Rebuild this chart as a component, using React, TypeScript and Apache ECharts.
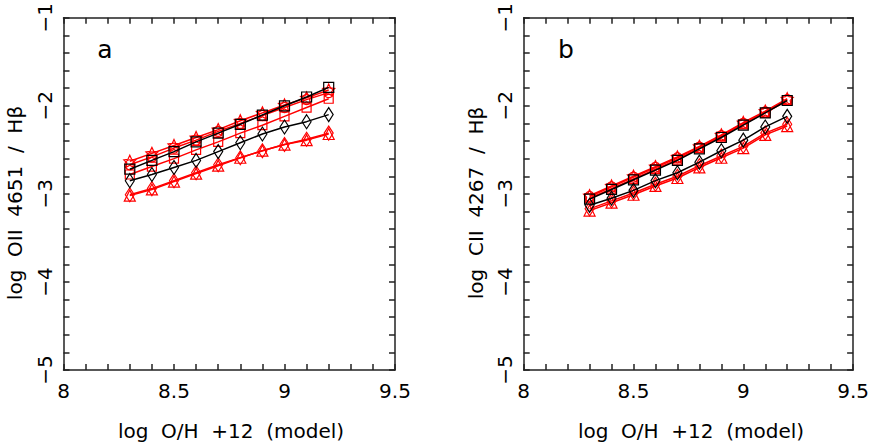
import React, { useEffect, useRef } from "react";
import * as echarts from "echarts";

// ---- data ----
const X_VALUES = [8.3, 8.4, 8.5, 8.6, 8.7, 8.8, 8.9, 9.0, 9.1, 9.2];
const X_TICK_LABELS = ["8", "8.5", "9", "9.5"];
const Y_TICK_LABELS = ["−5", "−4", "−3", "−2", "−1"];

// panel a : log OII 4651 / Hb
const A_BLACK_SQUARE = [-2.72, -2.62, -2.52, -2.41, -2.31, -2.21, -2.105, -2.0, -1.9, -1.79];
const A_BLACK_DIAMOND = [-2.85, -2.78, -2.7, -2.62, -2.52, -2.42, -2.32, -2.24, -2.18, -2.1];
const A_RED_STAR = [-2.63, -2.54, -2.45, -2.36, -2.27, -2.17, -2.08, -1.99, -1.91, -1.82];
const A_RED_CIRCLE = [-2.67, -2.58, -2.48, -2.39, -2.29, -2.2, -2.11, -2.02, -1.93, -1.85];
const A_RED_SQUARE = [-2.78, -2.69, -2.6, -2.5, -2.41, -2.31, -2.22, -2.12, -2.02, -1.92];
const A_RED_TRIANGLE = [-3.02, -2.95, -2.86, -2.77, -2.68, -2.59, -2.51, -2.44, -2.39, -2.32];
const A_RED_DIAMOND = [-3.01, -2.94, -2.85, -2.76, -2.67, -2.59, -2.51, -2.44, -2.38, -2.31];

// panel b : log CII 4267 / Hb
const B_BLACK_SQUARE = [-3.06, -2.95, -2.84, -2.73, -2.62, -2.49, -2.36, -2.22, -2.08, -1.94];
const B_BLACK_DIAMOND = [-3.13, -3.05, -2.96, -2.85, -2.76, -2.64, -2.51, -2.39, -2.24, -2.12];
const B_RED_STAR = [-3.02, -2.91, -2.8, -2.69, -2.58, -2.46, -2.33, -2.19, -2.06, -1.92];
const B_RED_CIRCLE = [-3.03, -2.92, -2.81, -2.7, -2.59, -2.47, -2.34, -2.2, -2.07, -1.93];
const B_RED_SQUARE = [-3.05, -2.94, -2.83, -2.72, -2.61, -2.48, -2.35, -2.21, -2.08, -1.94];
const B_RED_TRIANGLE = [-3.19, -3.1, -3.01, -2.91, -2.82, -2.7, -2.59, -2.48, -2.33, -2.23];
const B_RED_DIAMOND = [-3.17, -3.08, -2.99, -2.89, -2.8, -2.68, -2.57, -2.46, -2.31, -2.21];

const X_TITLE = "log  O/H  +12  (model)";
const Y_TITLE_A = "log  OII  4651  /  Hβ";
const Y_TITLE_B = "log  CII  4267  /  Hβ";

const STAR =
  "path://M0,-10 L2.9,-4 L9.5,-3.1 L4.7,1.5 L5.9,8.1 L0,5 L-5.9,8.1 L-4.7,1.5 L-9.5,-3.1 L-2.9,-4 Z";

const FONT = "DejaVu Sans";
const AXIS_COLOR = "#222";
const RED = "#ff0000";
const BLACK = "#000000";

function xLabel(v: number): string {
  const s = String(Math.round(v * 10) / 10);
  return X_TICK_LABELS.includes(s) ? s : "";
}
function yLabel(v: number): string {
  const r = Math.round(v);
  if (Math.abs(v - r) > 1e-6) return "";
  const s = "−" + Math.abs(r);
  return Y_TICK_LABELS.includes(s) ? s : "";
}

function mkX(gridIndex: number, top: boolean) {
  return {
    type: "value",
    gridIndex,
    position: top ? "top" : "bottom",
    min: 8,
    max: 9.5,
    interval: 0.1,
    axisLine: { show: true, onZero: false, lineStyle: { color: AXIS_COLOR, width: 1.5 } },
    axisTick: { show: true, inside: true, length: 6, lineStyle: { color: AXIS_COLOR, width: 1.5 } },
    axisLabel: {
      show: !top,
      formatter: xLabel,
      margin: 11,
      color: "#000",
      fontFamily: FONT,
      fontSize: 20,
      hideOverlap: false,
    },
    splitLine: { show: false },
  };
}
function mkY(gridIndex: number, right: boolean) {
  return {
    type: "value",
    gridIndex,
    position: right ? "right" : "left",
    min: -5,
    max: -1,
    interval: 0.2,
    axisLine: { show: true, onZero: false, lineStyle: { color: AXIS_COLOR, width: 1.5 } },
    axisTick: { show: true, inside: true, length: 6, lineStyle: { color: AXIS_COLOR, width: 1.5 } },
    axisLabel: {
      show: !right,
      formatter: yLabel,
      rotate: 90,
      margin: 9,
      color: "#000",
      fontFamily: FONT,
      fontSize: 20,
      hideOverlap: false,
    },
    splitLine: { show: false },
  };
}

function mkSeries(
  axis: number,
  data: number[],
  color: string,
  symbol: string,
  size: number | number[]
) {
  return {
    type: "line",
    xAxisIndex: axis,
    yAxisIndex: axis,
    data: X_VALUES.map((x, i) => [x, data[i]]),
    symbol,
    symbolSize: size,
    showAllSymbol: true,
    lineStyle: { color, width: 1.5 },
    itemStyle: { color: "rgba(0,0,0,0)", borderColor: color, borderWidth: 1.2 },
    z: color === BLACK ? 3 : 2,
  };
}

function panelSeries(
  axis: number,
  bs: number[],
  bd: number[],
  rs: number[],
  rc: number[],
  rq: number[],
  rt: number[],
  rd: number[]
) {
  return [
    mkSeries(axis, rt, RED, "triangle", 11),
    mkSeries(axis, rd, RED, "diamond", [9, 14]),
    mkSeries(axis, rs, RED, STAR, 12),
    mkSeries(axis, rc, RED, "circle", 10),
    mkSeries(axis, rq, RED, "rect", 9),
    mkSeries(axis, bd, BLACK, "diamond", [9, 14]),
    mkSeries(axis, bs, BLACK, "rect", 10),
  ];
}

export default function App() {
  const ref = useRef<HTMLDivElement>(null);
  useEffect(() => {
    if (!ref.current) return;
    const chart = echarts.init(ref.current, undefined, { renderer: "svg" });
    const textStyle = { fill: "#000", fontFamily: FONT, fontSize: 20 };
    chart.setOption({
      animation: false,
      backgroundColor: "#fff",
      grid: [
        { left: 63.5, top: 13, width: 331.5, height: 357 },
        { left: 523.7, top: 13, width: 331.3, height: 357 },
      ],
      xAxis: [mkX(0, false), mkX(0, true), mkX(1, false), mkX(1, true)],
      yAxis: [mkY(0, false), mkY(0, true), mkY(1, false), mkY(1, true)],
      series: [
        ...panelSeries(0, A_BLACK_SQUARE, A_BLACK_DIAMOND, A_RED_STAR, A_RED_CIRCLE, A_RED_SQUARE, A_RED_TRIANGLE, A_RED_DIAMOND),
        ...panelSeries(2, B_BLACK_SQUARE, B_BLACK_DIAMOND, B_RED_STAR, B_RED_CIRCLE, B_RED_SQUARE, B_RED_TRIANGLE, B_RED_DIAMOND),
      ],
      graphic: [
        { type: "text", x: 105, y: 49, style: { ...textStyle, text: "a", fontSize: 25, align: "center", verticalAlign: "middle" } },
        { type: "text", x: 566, y: 49, style: { ...textStyle, text: "b", fontSize: 25, align: "center", verticalAlign: "middle" } },
        { type: "text", x: 231, y: 431, style: { ...textStyle, text: X_TITLE, align: "center", verticalAlign: "middle" } },
        { type: "text", x: 691, y: 431, style: { ...textStyle, text: X_TITLE, align: "center", verticalAlign: "middle" } },
        { type: "text", x: 15, y: 203, rotation: Math.PI / 2, style: { ...textStyle, text: Y_TITLE_A, align: "center", verticalAlign: "middle" } },
        { type: "text", x: 476, y: 203, rotation: Math.PI / 2, style: { ...textStyle, text: Y_TITLE_B, align: "center", verticalAlign: "middle" } },
      ],
    });
    return () => chart.dispose();
  }, []);
  return (
    <div
      ref={ref}
      style={{ position: "fixed", left: 0, top: 0, width: 872, height: 443 }}
    />
  );
}
